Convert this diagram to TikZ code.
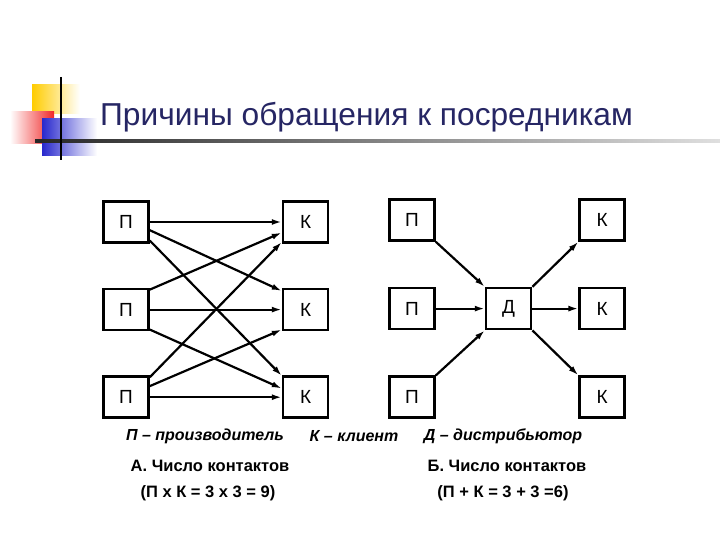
\documentclass[tikz,border=0pt]{standalone}
\usepackage{fontspec}
\setmainfont{Liberation Sans}
\usepackage{xcolor}
\usetikzlibrary{arrows.meta,positioning}
\definecolor{titleblue}{RGB}{38,38,100}
\definecolor{logoyellow}{RGB}{255,204,0}
\definecolor{logored}{RGB}{240,40,40}
\definecolor{logoblue}{RGB}{40,40,205}

\begin{document}
\begin{tikzpicture}[
  x=1pt, y=-1pt,
  node distance=44pt and 132pt,
  box/.style={draw, line width=2.6pt, minimum width=45pt, minimum height=41pt, inner sep=0pt,
              font=\fontsize{19}{19}\selectfont},
  flow/.style={-{Latex[length=10pt,width=6pt]}, line width=2.2pt},
  legend/.style={font=\fontsize{16.5}{18}\selectfont\bfseries, inner sep=0pt},
  key/.style={legend, font=\fontsize{16}{18}\selectfont\bfseries\itshape}
]
\useasboundingbox[fill=white] (0,0) rectangle (720,540);

% logo and rule
\shade[left color=logoyellow, right color=white] (32,85) rectangle (80,114);
\shade[left color=white, right color=logored] (10,112) rectangle (54,144);
\shade[left color=logoblue, right color=white] (42,119) rectangle (97,156);
\shade[left color=black!85, right color=gray!25] (35,139.5) rectangle (720,142.5);
\draw[line width=2.5pt] (61,77) -- (61,160);

\node[anchor=west, text=titleblue, font=\fontsize{31.7}{32}\selectfont, inner sep=0pt] (title) at (100,117)
  {Причины обращения к посредникам};

% A: direct contacts
\node[box] (p1) at (126,222) {П};
\node[box, below=of p1] (p2) {П};
\node[box, below=of p2] (p3) {П};
\node[box, right=of p1] (k1) {К};
\node[box, right=of p2] (k2) {К};
\node[box, right=of p3] (k3) {К};

\draw[flow] (p1) -- (k1);
\draw[flow] (p1.-19) -- (k2.142);
\draw[flow] (p1.-38) -- (k3.138);
\draw[flow] (p2.40) -- (k1.-156);
\draw[flow] (p2) -- (k2);
\draw[flow] (p2.-40) -- (k3.160);
\draw[flow] (p3.40) -- (k1.-140);
\draw[flow] (p3.25) -- (k2.-140);
\draw[flow] (p3) -- (k3);

% B: through distributor
\node[box] (rp1) at (412,220) {П};
\node[box, below=45pt of rp1] (rp2) {П};
\node[box, below=45pt of rp2] (rp3) {П};
\node[box, right=49pt of rp2] (dist) {Д};
\node[box, right=46pt of dist] (rk2) {К};
\node[box, above=45pt of rk2] (rk1) {К};
\node[box, below=45pt of rk2] (rk3) {К};

\draw[flow] (rp1.south east) -- (dist.north west);
\draw[flow] (rp2) -- (dist);
\draw[flow] (rp3.north east) -- (dist.south west);
\draw[flow] (dist.north east) -- (rk1.south west);
\draw[flow] (dist) -- (rk2);
\draw[flow] (dist.south east) -- (rk3.north west);

% legend
\node[key] (lp) at (205,436) {П – производитель};
\node[key] (lk) at (354,436) {К – клиент};
\node[key] (ld) at (503,436) {Д – дистрибьютор};
\node[legend] (capa) at (210,466) {А. Число контактов};
\node[legend] (suma) at (208,493) {(П х К = 3 х 3 = 9)};
\node[legend] (capb) at (507,466) {Б. Число контактов};
\node[legend] (sumb) at (503,493) {(П + К = 3 + 3 =6)};
\end{tikzpicture}
\end{document}
